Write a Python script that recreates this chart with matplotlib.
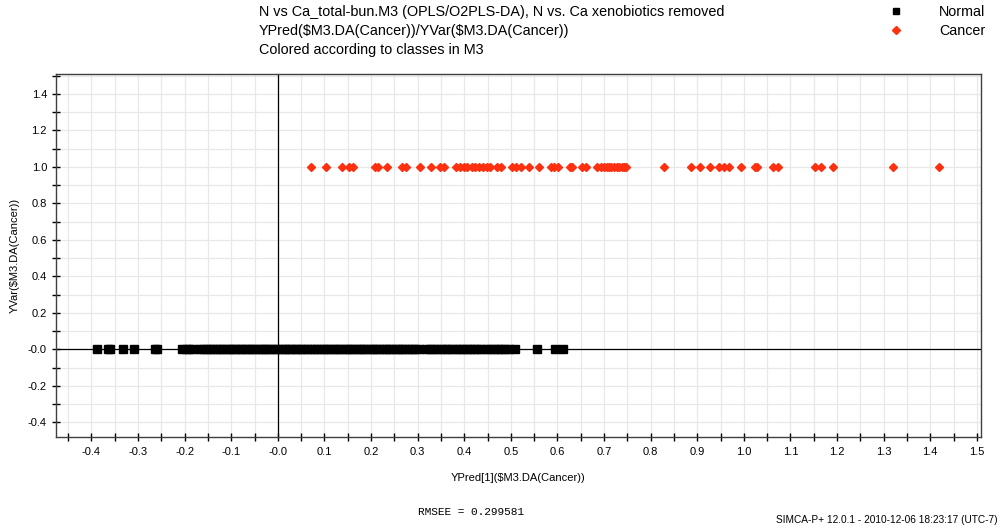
import matplotlib
matplotlib.use("Agg")
import matplotlib.pyplot as plt
from matplotlib.ticker import MultipleLocator, FuncFormatter

plt.rcParams['font.family'] = ['Liberation Sans', 'DejaVu Sans']
plt.rcParams['text.parse_math'] = False

# YPred[1] values, Normal class sits at YVar = 0
normal_x = [-0.387, -0.364, -0.360, -0.333, -0.308, -0.263, -0.260,
            -0.205, -0.198, -0.190, -0.183, -0.167, -0.160,
            -0.152, -0.145, -0.139, -0.131, -0.124, -0.118, -0.110, -0.103,
            -0.097, -0.089, -0.082, -0.076, -0.069, -0.061, -0.055, -0.048,
            -0.041, -0.034, -0.027, -0.021, -0.014, -0.006, 0.001, 0.008,
            0.015, 0.021, 0.029, 0.036, 0.042, 0.050, 0.057, 0.063, 0.071,
            0.078, 0.084, 0.092, 0.099, 0.106, 0.113, 0.120, 0.127, 0.134,
            0.141, 0.148, 0.155, 0.162, 0.169, 0.176, 0.183, 0.190, 0.197,
            0.204, 0.211, 0.218, 0.225, 0.232, 0.239, 0.246, 0.253, 0.260,
            0.267, 0.274, 0.281, 0.288, 0.295, 0.302,
            0.318, 0.326, 0.334, 0.342, 0.350,
            0.358, 0.366, 0.374, 0.382, 0.390, 0.398, 0.406, 0.413, 0.420,
            0.427, 0.436, 0.446, 0.455, 0.464, 0.472, 0.479,
            0.487, 0.496, 0.509, 0.557, 0.594, 0.613]
normal_y = [0.0] * len(normal_x)

# Cancer class sits at YVar = 1
cancer_x = [0.072, 0.103, 0.137, 0.153, 0.162, 0.208, 0.215, 0.234, 0.266,
            0.275, 0.305, 0.328, 0.349, 0.357, 0.382, 0.391, 0.399, 0.407,
            0.416, 0.424, 0.432, 0.441, 0.449, 0.455, 0.471, 0.479, 0.503,
            0.511, 0.522, 0.538, 0.560, 0.586, 0.593, 0.601, 0.626, 0.632,
            0.653, 0.662, 0.686, 0.694, 0.700, 0.706, 0.711, 0.716, 0.721,
            0.727, 0.732, 0.738, 0.742, 0.747, 0.828, 0.887, 0.907, 0.928,
            0.946, 0.958, 0.968, 0.995, 1.024, 1.028, 1.063, 1.073, 1.153,
            1.165, 1.192, 1.320, 1.419]
cancer_y = [1.0] * len(cancer_x)

title_lines = ["N vs Ca_total-bun.M3 (OPLS/O2PLS-DA), N vs. Ca xenobiotics removed",
               "YPred($M3.DA(Cancer))/YVar($M3.DA(Cancer))",
               "Colored according to classes in M3"]
rmsee = 0.299581
footer = "SIMCA-P+ 12.0.1 - 2010-12-06 18:23:17 (UTC-7)"


def fmt(v, pos):
    s = "%.1f" % v
    if s == "0.0":
        s = "-0.0"
    return s


fig = plt.figure(figsize=(10, 5.29), dpi=100)
ax = fig.add_axes([0.056, 0.174, 0.925, 0.686])

ax.set_xlim(-0.476, 1.509)
ax.set_ylim(-0.48, 1.508)

ax.xaxis.set_major_locator(MultipleLocator(0.1))
ax.xaxis.set_minor_locator(MultipleLocator(0.05))
ax.yaxis.set_major_locator(MultipleLocator(0.2))
ax.yaxis.set_minor_locator(MultipleLocator(0.1))
ax.xaxis.set_major_formatter(FuncFormatter(fmt))
ax.yaxis.set_major_formatter(FuncFormatter(fmt))

ax.grid(True, which='both', color='#e8e8e8', linewidth=0.9, zorder=0)
ax.set_axisbelow(True)
ax.tick_params(which='both', direction='inout', length=6, width=1, labelsize=8,
               top=False, right=False)
ax.tick_params(axis='x', pad=4)
for sp in ax.spines.values():
    sp.set_linewidth(1)
    sp.set_color('#404040')

ax.axhline(0, color='black', linewidth=0.9, zorder=1)
ax.axvline(0, color='black', linewidth=0.9, zorder=1)

ax.plot(normal_x, normal_y, linestyle='none', marker='s', markersize=5.2,
        color='black', label='Normal', zorder=3)
ax.plot(cancer_x, cancer_y, linestyle='none', marker='D', markersize=4.5,
        color='#ff3010', label='Cancer', zorder=3)

ax.set_xlabel("YPred[1]($M3.DA(Cancer))", fontsize=8, labelpad=12)
ax.set_ylabel("YVar($M3.DA(Cancer))", fontsize=8, labelpad=6)

for i, line in enumerate(title_lines):
    fig.text(0.259, 1 - (12 + 19 * i) / 529, line, fontsize=10.4,
             ha='left', va='center')

fig.legend(loc='upper right', bbox_to_anchor=(0.998, 1.014), frameon=False,
           fontsize=10.3, handletextpad=2.0, labelspacing=0.3, markerscale=0.9)

fig.text(0.418, 1 - 512 / 529, "RMSEE = %.6f" % rmsee, fontsize=8,
         family='Liberation Mono', ha='left', va='center')
fig.text(0.997, 1 - 520 / 529, footer, fontsize=7.3, ha='right', va='center')

fig.savefig("out.png", dpi=100)
